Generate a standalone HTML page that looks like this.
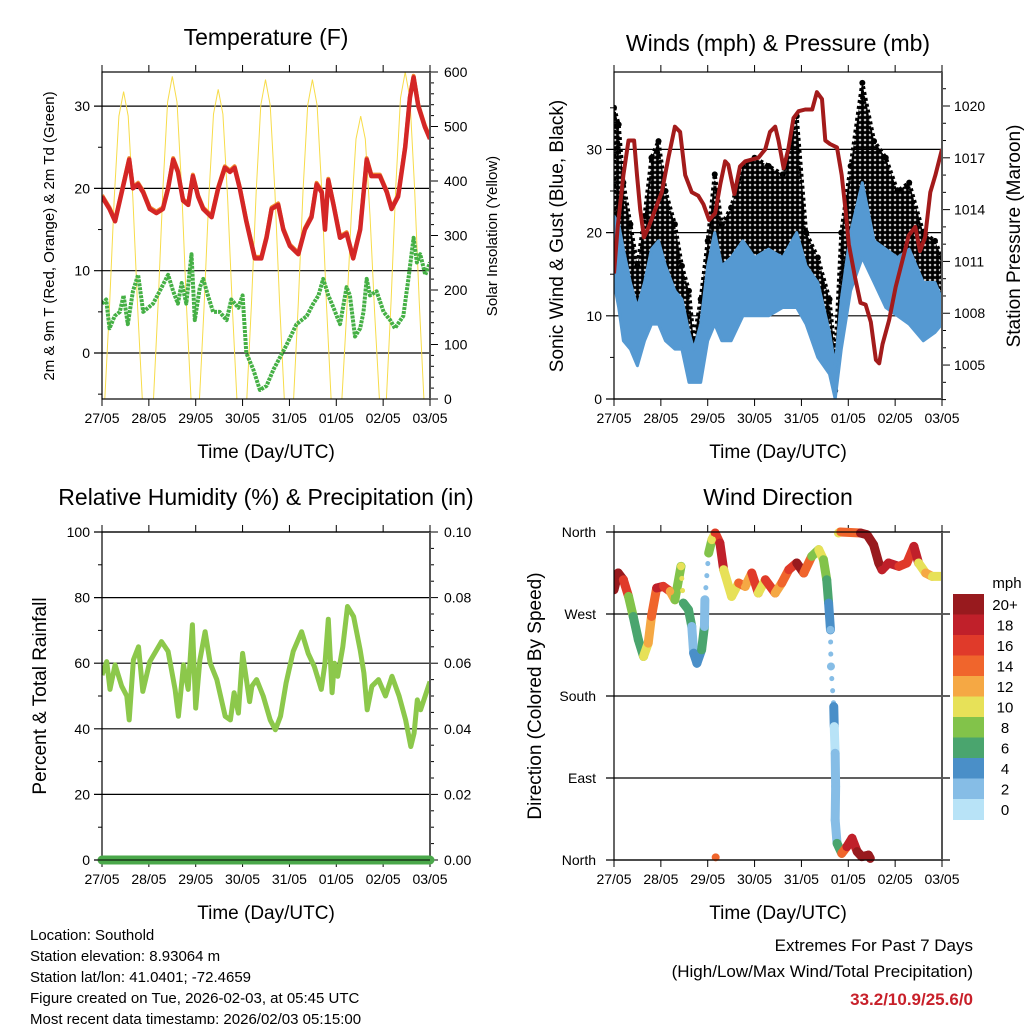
<!DOCTYPE html>
<html><head><meta charset="utf-8"><style>
html,body{margin:0;padding:0;background:#fff}
svg{display:block;font-family:"Liberation Sans",sans-serif}
</style></head><body>
<svg id="c" width="1024" height="1024" viewBox="0 0 1024 1024">
<defs>
<pattern id="gustPat" x="0" y="0" width="5" height="5" patternUnits="userSpaceOnUse">
<circle cx="2.5" cy="2.5" r="2.6" fill="#000"/>
</pattern>
</defs>
<g id="texts">
<text x="266" y="45" font-size="23" text-anchor="middle">Temperature (F)</text>
<text x="778" y="51" font-size="23" text-anchor="middle">Winds (mph) &amp; Pressure (mb)</text>
<text x="266" y="505" font-size="23" text-anchor="middle">Relative Humidity (%) &amp; Precipitation (in)</text>
<text x="778" y="505" font-size="23" text-anchor="middle">Wind Direction</text>
<text x="266" y="458" font-size="19" text-anchor="middle">Time (Day/UTC)</text>
<text x="778" y="458" font-size="19" text-anchor="middle">Time (Day/UTC)</text>
<text x="266" y="919" font-size="19" text-anchor="middle">Time (Day/UTC)</text>
<text x="778" y="919" font-size="19" text-anchor="middle">Time (Day/UTC)</text>
<text transform="translate(54,236) rotate(-90)" font-size="15" text-anchor="middle">2m &amp; 9m T (Red, Orange) &amp; 2m Td (Green)</text>
<text transform="translate(497,236) rotate(-90)" font-size="15" text-anchor="middle">Solar Insolation (Yellow)</text>
<text transform="translate(563,236) rotate(-90)" font-size="19" text-anchor="middle">Sonic Wind &amp; Gust (Blue, Black)</text>
<text transform="translate(1020,236) rotate(-90)" font-size="19" text-anchor="middle">Station Pressure (Maroon)</text>
<text transform="translate(46,696) rotate(-90)" font-size="19" text-anchor="middle">Percent &amp; Total Rainfall</text>
<text transform="translate(541,696) rotate(-90)" font-size="19" text-anchor="middle">Direction (Colored By Speed)</text>
<g font-size="15">
<text x="30" y="940">Location: Southold</text>
<text x="30" y="961">Station elevation: 8.93064 m</text>
<text x="30" y="982">Station lat/lon: 41.0401; -72.4659</text>
<text x="30" y="1003">Figure created on Tue, 2026-02-03, at 05:45 UTC</text>
<text x="30" y="1024">Most recent data timestamp: 2026/02/03 05:15:00</text>
</g>
<g font-size="17" text-anchor="end">
<text x="973" y="951">Extremes For Past 7 Days</text>
<text x="973" y="977">(High/Low/Max Wind/Total Precipitation)</text>
<text x="973" y="1005" fill="#c8202a" font-weight="bold">33.2/10.9/25.6/0</text>
</g>
</g>
</svg>
<script>
// ---- data ----
const dayLabels=["27/05","28/05","29/05","30/05","31/05","01/05","02/05","03/05"];
const tempDays=[0,0.16,0.28,0.38,0.48,0.58,0.66,0.77,0.88,1.02,1.16,1.30,1.41,1.52,1.62,1.73,1.84,1.94,2.05,2.16,2.34,2.48,2.62,2.73,2.83,2.94,3.08,3.26,3.40,3.51,3.62,3.76,3.87,4.01,4.19,4.33,4.47,4.58,4.69,4.76,4.83,4.94,5.08,5.22,5.36,5.51,5.65,5.75,5.93,6.08,6.18,6.32,6.47,6.57,6.65,6.75,6.89,7.0];
const tempValues=[19,17.5,16,18.5,21,23.5,20,20.5,19.5,17.5,17,17.5,20,23.5,22,18.5,18,21.5,19,17.5,16.5,20,22.5,22,22.5,20,16,11.5,11.5,14,17.5,18,15,13,12,15,16.5,20.5,19.5,15,21,18,14,14.5,11.5,15,23.5,21.5,21.5,19.5,17.5,19,25,31,33.5,30,27.5,26];
const dewDays=[0,0.09,0.16,0.27,0.38,0.46,0.55,0.66,0.77,0.88,1.09,1.23,1.41,1.52,1.62,1.70,1.80,1.91,1.98,2.09,2.16,2.26,2.37,2.51,2.66,2.76,2.91,3.0,3.08,3.23,3.37,3.51,3.66,3.80,3.94,4.15,4.37,4.51,4.62,4.72,4.83,4.94,5.08,5.22,5.29,5.40,5.51,5.58,5.65,5.72,5.86,6.01,6.15,6.25,6.43,6.54,6.65,6.72,6.79,6.90,7.0];
const dewValues=[6,6.5,3,4.5,5,7,3.5,7.5,9.5,5,6,7.5,9.5,7.5,6,8.5,6,12,4,8,9,7,5,5,4,6.5,5.5,7,0,-2,-4.5,-4,-2,-0.5,1,3.5,4.5,6,7,9,7,5.5,3.5,8,7,2,3,5,9,7,7.5,5,4,3,4.5,9,14,11,12,9.5,11];
const solarDays=[0.06,0.16,0.26,0.36,0.46,0.56,0.66,0.76,0.86,1.10,1.20,1.30,1.40,1.50,1.60,1.70,1.80,1.90,2.08,2.18,2.28,2.38,2.48,2.58,2.68,2.78,2.88,3.09,3.19,3.29,3.39,3.49,3.59,3.69,3.79,3.89,4.09,4.19,4.29,4.39,4.49,4.59,4.69,4.79,4.89,5.12,5.22,5.32,5.42,5.52,5.62,5.72,5.82,5.92,6.07,6.17,6.27,6.37,6.47,6.57,6.67,6.77,6.87];
const solarValues=[0,169,367,519,564,519,367,169,0,0,178,385,545,592,545,385,178,0,0,170,369,523,568,523,369,170,0,0,176,381,539,586,539,381,176,0,0,176,381,539,586,539,381,176,0,0,156,337,477,519,477,337,156,0,0,180,390,552,600,552,390,180,0];
const windDays=[0,0.1,0.2,0.35,0.5,0.65,0.8,0.95,1.1,1.3,1.45,1.6,1.7,1.85,2.0,2.15,2.3,2.5,2.75,3.0,3.3,3.6,3.9,4.1,4.35,4.6,4.72,4.85,5.05,5.3,5.55,5.8,6.05,6.3,6.6,6.85,7.0];
const gustHigh=[35,33,26,21,16,22,29,31,25,21,16,13,7,12,19,27,21,23,28,29,28,27,34,20,17,12,5,20,28,38,31,29,25,26,20,19,17];
const gustLow=[22,16,13,12,9,14,16,18,14,12,10,6,5,6,12,14,14,14,17,15,16,17,18,12,11,5,1,13,20,26,18,17,15,12,12,12,12];
const windHigh=[22,21,18,14,11,14,18,19,16,13,12,8,6,9,16,20,16,17,19,17,18,17,20,16,14,8,4,12,20,26,19,18,17,18,14,14,12];
const windLow=[14,11,7,6,4,7,9,9,7,6,6,2,2,2,7,9,7,7,10,10,10,11,11,9,5,3,0,6,13,17,14,11,10,9,7,8,9];
const presDays=[0,0.08,0.2,0.31,0.43,0.49,0.56,0.64,0.74,0.88,1.02,1.16,1.30,1.41,1.52,1.66,1.80,1.91,2.03,2.16,2.27,2.37,2.44,2.57,2.69,2.80,2.94,3.08,3.23,3.33,3.44,3.51,3.62,3.72,3.83,3.94,4.08,4.23,4.33,4.44,4.51,4.61,4.76,4.86,4.94,5.01,5.15,5.26,5.37,5.48,5.59,5.66,5.73,5.87,6.01,6.15,6.29,6.43,6.53,6.64,6.75,6.86,7.0];
const presValues=[1010.3,1013,1016,1018,1018,1016,1014,1012.4,1013,1014,1015,1017,1018.8,1018.5,1016,1015,1014.8,1014.3,1013.4,1013.8,1015.5,1016.8,1016.6,1014.9,1016.5,1016.8,1016.9,1017,1017.5,1018.5,1018.8,1018,1016.4,1017.5,1019.3,1019.7,1019.8,1019.8,1020.8,1020.4,1018,1017.8,1017.6,1016,1014,1012,1010,1008.6,1008.5,1007.5,1005.3,1005.1,1006.2,1007.6,1009.5,1011,1012.5,1013,1011.6,1012.4,1015,1016,1017.5];
const rhDays=[0,0.10,0.17,0.28,0.42,0.53,0.58,0.67,0.78,0.87,1.02,1.27,1.41,1.56,1.63,1.74,1.84,1.93,2.0,2.09,2.20,2.31,2.45,2.63,2.74,2.82,2.91,3.00,3.15,3.20,3.30,3.44,3.59,3.70,3.81,3.93,4.08,4.26,4.40,4.53,4.68,4.76,4.83,4.91,4.96,5.03,5.14,5.24,5.37,5.51,5.59,5.66,5.76,5.90,6.05,6.19,6.34,6.48,6.59,6.66,6.73,6.80,6.92,7.0];
const rhValues=[56.4,60.5,52,59.5,53,50,42.7,61,65,51.4,60.5,66.6,63.6,52,43.8,59.5,52,71.7,46.3,61,69.6,60,55,43.8,42.7,51,44.8,63,48.3,53,55,50,42.7,39.7,43.8,54,63.6,69.6,63,59,52,60,73.4,51,60,56,65,77.3,74.2,64,57,45.8,53,55,50,56,50,42.7,34.6,38.7,48.8,45.8,51,54.4];
const precipDays=[0,7];
const precipValues=[0,0];
const dirDays=[0,0.09,0.20,0.31,0.41,0.52,0.63,0.73,0.80,0.91,1.05,1.20,1.30,1.43,1.48,1.59,1.66,1.70,1.77,1.87,1.93,1.94,2.02,2.09,2.16,2.26,2.34,2.51,2.66,2.80,2.94,3.08,3.23,3.44,3.58,3.73,3.90,4.05,4.22,4.37,4.47,4.54,4.58,4.62,4.63,4.69,4.70,4.72,4.73,4.72,4.76,4.86,4.97,5.08,5.19,5.29,5.43,5.47];
const dirValues=[296.6,315,307.6,289.3,267.3,241.7,223.4,238,267.3,298.5,300.3,294.8,285.6,322.3,282,274.7,256.3,227,216,230.7,256.3,285.6,336.9,351.6,358.9,347.9,318.6,289.3,304,300.3,315,293,307.6,293,304,318.6,326,315,333.3,340.6,329.6,307.6,282,252.6,212.4,168.4,146.4,117.1,80.5,43.9,18.3,7.3,14.6,23.8,9.2,3.7,5.4,1.8];
const dirSpeeds=[21,21,17,9,7,7,11,13,15,19,17,13,9,11,7,7,3,5,5,7,3,3,9,11,17,19,11,11,15,13,17,11,17,13,15,17,21,15,9,11,9,7,5,3,3,5,1,3,3,3,7,15,19,19,21,21,21,21];
const dir2Days=[4.79,4.83,5.26,5.40,5.54,5.65,5.72,5.86,6.08,6.25,6.40,6.50,6.65,6.79,6.97];
const dir2Values=[358.9,360,358.9,357,346,326,318.6,326,322.3,326,344.2,326,315,311.3,311.3];
const dir2Speeds=[11,15,21,21,21,21,19,19,17,17,19,11,13,11,11];
const dir3Days=[2.17];
const dir3Values=[2.9];
const dir3Speeds=[15];
const speedBins=["0","2","4","6","8","10","12","14","16","18","20+"];
const speedColors=["#b8e3f7","#86bde6","#4a8fc8","#4aa56e","#82c34a","#e7e158","#f5a844","#f0652c","#e03a2a","#c0202a","#981a1e"];

// ---- helpers ----
const NS="http://www.w3.org/2000/svg";
const svg=document.getElementById('c');
function mk(tag,attrs,parent){const e=document.createElementNS(NS,tag);for(const k in attrs)e.setAttribute(k,attrs[k]);(parent||svg).appendChild(e);return e;}
function txt(x,y,s,size,anchor,parent){const t=mk('text',{x:x,y:y,'font-size':size,'text-anchor':anchor},parent);t.textContent=s;return t;}
function line(d,ys,xs,ysc){return d.map((v,i)=>(i?'L':'M')+xs(v).toFixed(1)+','+ysc(ys[i]).toFixed(1)).join('');}

function frame(x0,y0,w,h,name){
  const g=mk('g',{});
  
  
  const dx=w/7;
  for(let i=0;i<=7;i++){
    const x=x0+i*dx;
    mk('line',{x1:x,y1:y0-7,x2:x,y2:y0,stroke:'#000','stroke-width':1},g);
    mk('line',{x1:x,y1:y0+h,x2:x,y2:y0+h+7,stroke:'#000','stroke-width':1},g);
    const t=txt(x,y0+h+24,dayLabels[i],14,'middle',g);
    
    
  }
  return g;
}
function border(x0,y0,w,h,g){
  mk('rect',{x:x0,y:y0,width:w,height:h,fill:'none',stroke:'#000','stroke-width':1.2},g);
  mk('line',{x1:x0+w,y1:y0,x2:x0+w,y2:y0+h,stroke:'#555','stroke-width':2},g);
}

// ===== Panel 1: Temperature =====
(function(){
  const X0=102,Y0=72,W=328,H=327;
  const xs=d=>X0+d*W/7;
  const yT=t=>353-t*8.23;
  const yS=s=>399-s*327/600;
  const g=frame(X0,Y0,W,H,'temperature');
  [0,10,20,30].forEach(v=>{
    mk('line',{x1:X0-8,y1:yT(v),x2:X0+W,y2:yT(v),stroke:'#000','stroke-width':1.2},g);
    const t=txt(X0-12,yT(v)+5,String(v),14,'end',g);
    
    
  });
  [-5,5,15,25].forEach(v=>mk('line',{x1:X0-4,y1:yT(v),x2:X0,y2:yT(v),stroke:'#000'},g));
  for(let s=0;s<=600;s+=20){mk('line',{x1:X0+W,y1:yS(s),x2:X0+W+(s%100?4:8),y2:yS(s),stroke:'#000'},g);}
  for(let s=0;s<=600;s+=100){const t=txt(X0+W+14,yS(s)+5,String(s),14,'start',g);}
  const clip=mk('clipPath',{id:'cp1'});mk('rect',{x:X0,y:Y0,width:W,height:H},clip);
  const p=mk('g',{'clip-path':'url(#cp1)'});
  const sol=mk('path',{d:line(solarDays,solarValues,xs,yS),fill:'none',stroke:'#f7dc4a','stroke-width':1},p);
  
  
  const dew=mk('path',{d:line(dewDays,dewValues,xs,yT),fill:'none',stroke:'#45b045','stroke-width':4,'stroke-dasharray':'3 1','stroke-linejoin':'round'},p);
  
  
  const or=mk('path',{d:line(tempDays,tempValues,xs,t=>yT(t)-1.5),fill:'none',stroke:'#f28a30','stroke-width':4,'stroke-linejoin':'round'},p);
  
  
  const rd=mk('path',{d:line(tempDays,tempValues,xs,yT),fill:'none',stroke:'#d42626','stroke-width':4.5,'stroke-linejoin':'round'},p);
  
  
  border(X0,Y0,W,H,svg);
})();

// ===== Panel 2: Winds & Pressure =====
(function(){
  const X0=614,Y0=72,W=328,H=327;
  const xs=d=>X0+d*W/7;
  const yW=v=>399-v*8.32;
  const yP=p=>106+(1020-p)*17.27;
  const g=frame(X0,Y0,W,H,'winds');
  [0,10,20,30].forEach(v=>{
    mk('line',{x1:X0-8,y1:yW(v),x2:X0+W,y2:yW(v),stroke:'#000','stroke-width':1.2},g);
    const t=txt(X0-12,yW(v)+5,String(v),14,'end',g);
    
    
  });
  [5,15,25,35].forEach(v=>mk('line',{x1:X0-4,y1:yW(v),x2:X0,y2:yW(v),stroke:'#000'},g));
  for(let p=1003;p<=1021;p++){mk('line',{x1:X0+W,y1:yP(p),x2:X0+W+((p-1005)%3?4:8),y2:yP(p),stroke:'#000'},g);}
  for(let p=1005;p<=1020;p+=3){const t=txt(X0+W+12,yP(p)+5,String(p),14,'start',g);}
  const clip=mk('clipPath',{id:'cp2'});mk('rect',{x:X0,y:Y0,width:W,height:H},clip);
  const p=mk('g',{'clip-path':'url(#cp2)'});
  function band(hi,lo,fill,stroke,sw,name){
    let d='M'+windDays.map((t,i)=>xs(t).toFixed(1)+','+yW(hi[i]).toFixed(1)).join('L');
    d+='L'+windDays.map((t,i)=>xs(t).toFixed(1)+','+yW(lo[i]).toFixed(1)).reverse().join('L')+'Z';
    const e=mk('path',{d:d,fill:fill,stroke:stroke,'stroke-width':sw,'stroke-linejoin':'round','stroke-dasharray':stroke=='#000'?'3 3':'none'},p);
    
    
  }
  band(gustHigh,gustLow,'url(#gustPat)','#000',4,'gust-band');
  const dots=mk('g',{fill:'#000'},p);
  
  
  windDays.forEach((t,i)=>{mk('circle',{cx:xs(t),cy:yW(gustHigh[i]),r:3},dots);mk('circle',{cx:xs(t),cy:yW(gustLow[i]),r:3},dots);});
  band(windHigh,windLow,'#5599d2','#5599d2',3,'sonic-wind-band');
  const pr=mk('path',{d:line(presDays,presValues,xs,yP),fill:'none',stroke:'#a31b1b','stroke-width':4,'stroke-linejoin':'round'},p);
  
  
  border(X0,Y0,W,H,svg);
})();

// ===== Panel 3: RH & precip =====
(function(){
  const X0=102,Y0=532,W=328,H=328;
  const xs=d=>X0+d*W/7;
  const yR=v=>860-v*3.28;
  const yPr=v=>860-v*3280;
  const g=frame(X0,Y0,W,H,'humidity');
  [0,20,40,60,80,100].forEach(v=>{
    mk('line',{x1:X0-8,y1:yR(v),x2:X0+W,y2:yR(v),stroke:'#000','stroke-width':1.2},g);
    const t=txt(X0-12,yR(v)+5,String(v),14,'end',g);
    
    
  });
  [10,30,50,70,90].forEach(v=>mk('line',{x1:X0-4,y1:yR(v),x2:X0,y2:yR(v),stroke:'#000'},g));
  for(let i=0;i<=20;i++){const v=i*0.005;mk('line',{x1:X0+W,y1:yPr(v),x2:X0+W+(i%4?4:8),y2:yPr(v),stroke:'#000'},g);}
  for(let i=0;i<=5;i++){const v=i*0.02;const t=txt(X0+W+14,yPr(v)+5,v.toFixed(2),14,'start',g);}
  const clip=mk('clipPath',{id:'cp3'});mk('rect',{x:X0,y:Y0,width:W,height:H+6},clip);
  const p=mk('g',{'clip-path':'url(#cp3)'});
  const rh=mk('path',{d:line(rhDays,rhValues,xs,yR),fill:'none',stroke:'#8cc84b','stroke-width':5,'stroke-linejoin':'round'},p);
  
  
  border(X0,Y0,W,H,svg);
  const pc=mk('path',{d:line(precipDays,precipValues,xs,yPr),fill:'none',stroke:'#4aa84a','stroke-width':9,'stroke-linecap':'round'});
  
  
  mk('line',{x1:X0-8,y1:860,x2:X0+W,y2:860,stroke:'#000','stroke-width':1});
})();

// ===== Panel 4: Wind direction =====
(function(){
  const X0=614,Y0=532,W=328,H=328;
  const xs=d=>X0+d*W/7;
  const yD=v=>860-v*H/360;
  const g=frame(X0,Y0,W,H,'direction');
  const names=[[360,'North'],[270,'West'],[180,'South'],[90,'East'],[0,'North']];
  names.forEach(([v,n])=>{
    mk('line',{x1:X0-8,y1:yD(v),x2:X0+W+8,y2:yD(v),stroke:'#000','stroke-width':1.2},g);
    const t=txt(X0-18,yD(v)+5,n,14,'end',g);
    
    
  });
  const col=s=>speedColors[Math.min(10,Math.floor(s/2))];
  const clip=mk('clipPath',{id:'cp4'});mk('rect',{x:X0,y:Y0-6,width:W,height:H+12},clip);
  const p=mk('g',{'clip-path':'url(#cp4)'});
  function series(days,vals,spd,name){
    const sg=mk('g',{},p);
    
    
    for(let i=0;i<days.length-1;i++){
      const sparse=Math.abs(vals[i+1]-vals[i])>40;
      mk('line',{x1:xs(days[i]),y1:yD(vals[i]),x2:xs(days[i+1]),y2:yD(vals[i+1]),stroke:col(spd[i]),'stroke-width':sparse?5:9,'stroke-linecap':'round','stroke-dasharray':sparse?'0.1 12':'none'},sg);
    }
    days.forEach((d,i)=>mk('circle',{cx:xs(d),cy:yD(vals[i]),r:4,fill:col(spd[i])},sg));
  }
  series(dirDays,dirValues,dirSpeeds,'direction-points-main');
  series(dir2Days,dir2Values,dir2Speeds,'direction-points-wrapped');
  series(dir3Days,dir3Values,dir3Speeds,'direction-point-isolated');
  border(X0,Y0,W,H,svg);
  // colorbar
  const cb=mk('g',{});
  
  
  const bx=953,by=594,bh=20.5;
  for(let i=0;i<11;i++){
    const k=10-i;
    mk('rect',{x:bx,y:by+i*bh,width:31,height:bh+0.5,fill:speedColors[k]},cb);
    const t=txt(1005,by+i*bh+16,speedBins[k],15,'middle',cb);
    
    
  }
  const u=txt(1007,588,'mph',15,'middle',cb);
  
  
})();
</script>
</body></html>
